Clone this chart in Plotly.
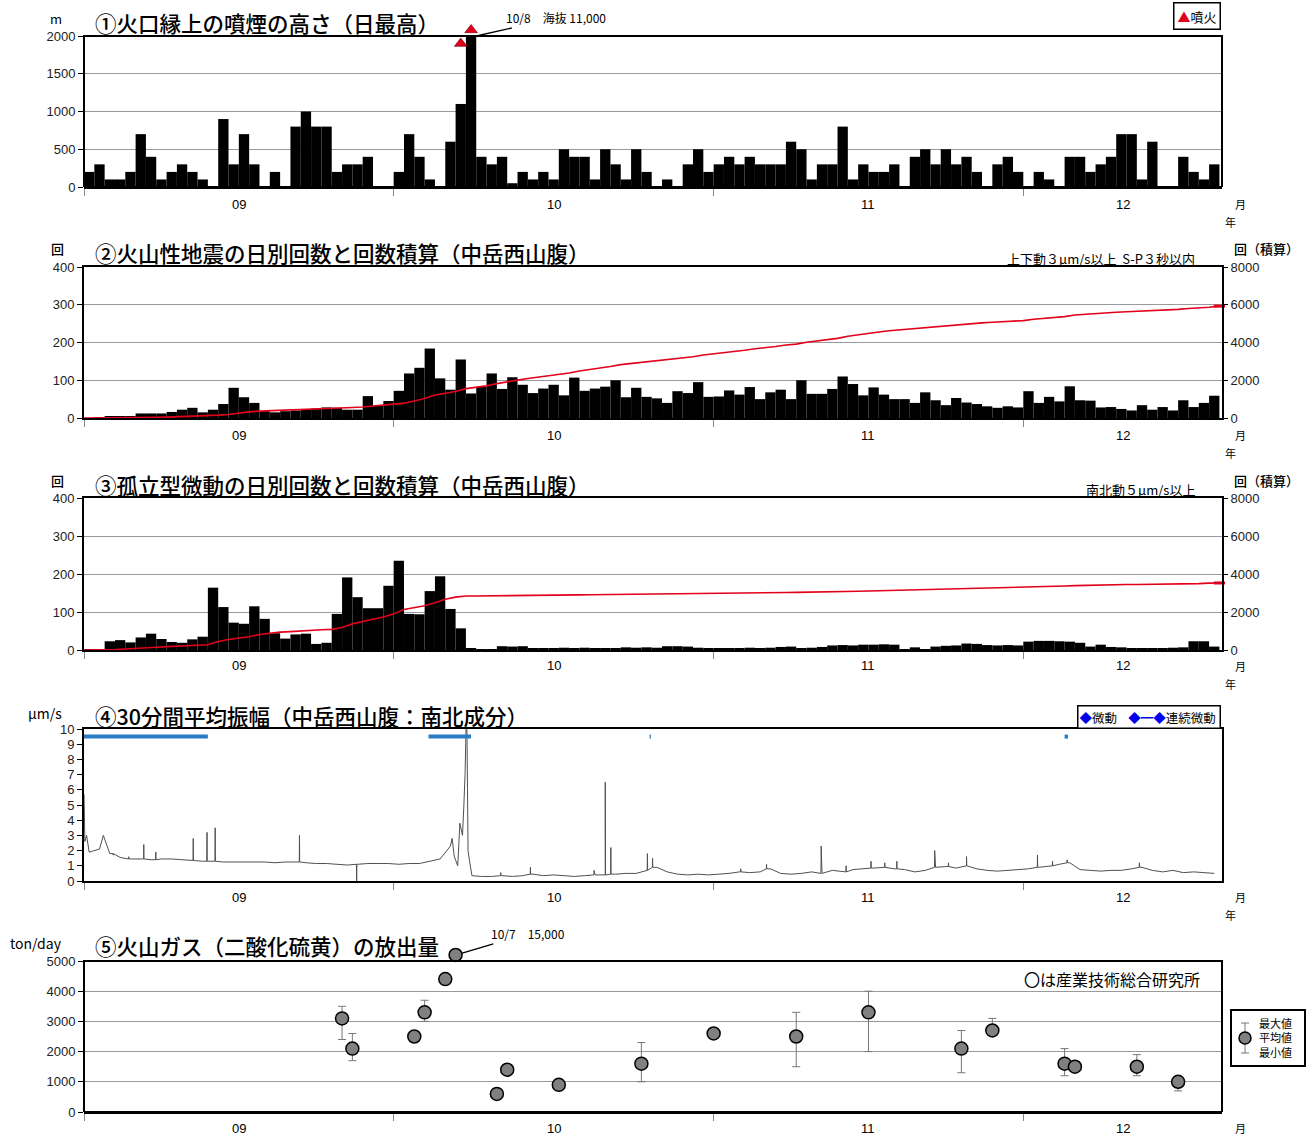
import numpy as np
import pandas as pd
import plotly.graph_objects as go

# ---------------- data ----------------
START = "2016-09-01"
X_END = "2016-12-20 06:00"
days = pd.date_range(START, "2016-12-19", freq="D")
month_starts = ["2016-09-01", "2016-10-01", "2016-11-01", "2016-12-01"]
month_labels = ["09", "10", "11", "12"]

# (1) daily maximum plume height above the crater rim [m]
plume_sep = [200, 300, 100, 100, 200, 700, 400, 100, 200, 300, 200, 100, 0, 900, 300,
             700, 300, 0, 200, 0, 800, 1000, 800, 800, 200, 300, 300, 400, 0, 0]
plume_oct = [200, 700, 400, 100, 0, 600, 1100, 10000, 400, 300, 400, 50, 200, 100, 200, 100,
             500, 400, 400, 100, 500, 300, 100, 500, 200, 0, 100, 0, 300, 500, 200]
plume_nov = [300, 400, 300, 400, 300, 300, 300, 600, 500, 100, 300, 300, 800, 100, 300,
             200, 200, 300, 0, 400, 500, 300, 500, 300, 400, 200, 0, 300, 400, 200]
plume_dec = [0, 200, 100, 0, 400, 400, 200, 300, 400, 700, 700, 100, 600, 0, 0, 400, 200, 100, 300]
eruption_days = ["2016-10-07", "2016-10-08"]

# (2) volcanic earthquakes per day
eq_sep = [0, 2, 3, 3, 4, 12, 12, 12, 16, 22, 27, 15, 22, 37, 80, 55, 40, 18, 15, 18,
          20, 22, 25, 28, 27, 22, 22, 58, 32, 45]
eq_oct = [72, 118, 133, 184, 105, 75, 155, 65, 82, 118, 77, 108, 88, 66, 78, 88, 60, 107,
          72, 78, 83, 100, 55, 80, 56, 52, 40, 71, 66, 95, 56]
eq_nov = [57, 73, 62, 82, 50, 68, 75, 50, 100, 64, 64, 77, 110, 90, 60, 81, 62, 50, 50, 40,
          68, 47, 34, 53, 41, 37, 31, 27, 31, 28]
eq_dec = [71, 40, 56, 44, 84, 47, 46, 28, 29, 24, 20, 34, 22, 29, 20, 47, 29, 40, 59]

# (3) isolated-type tremors per day
tr_sep = [1, 2, 23, 26, 20, 33, 43, 29, 21, 19, 28, 35, 164, 113, 72, 69, 115, 82, 44, 30,
          41, 43, 16, 19, 95, 191, 139, 110, 110, 169]
tr_oct = [235, 95, 94, 155, 194, 108, 57, 3, 2, 2, 10, 9, 10, 5, 4, 5, 6, 5, 6, 4, 5, 5, 7, 6,
          7, 6, 10, 10, 9, 6, 5]
tr_nov = [4, 5, 4, 6, 5, 6, 8, 9, 4, 6, 8, 12, 13, 12, 14, 14, 15, 14, 2, 7, 2, 9, 11, 12,
          17, 16, 13, 12, 13, 12]
tr_dec = [22, 24, 24, 23, 22, 19, 9, 14, 8, 7, 4, 3, 4, 5, 6, 7, 23, 23, 9]

# (4) 30-minute mean amplitude [um/s], value around midday of each day
amp_sep = [1.9, 2.1, 1.8, 1.55, 1.45, 1.45, 1.4, 1.45, 1.45, 1.4, 1.35, 1.3, 1.3, 1.25, 1.25,
           1.25, 1.25, 1.25, 1.2, 1.25, 1.25, 1.2, 1.15, 1.15, 1.1, 1.05, 1.1, 1.15, 1.15, 1.15]
amp_oct = [1.1, 1.15, 1.15, 1.3, 1.45, 2.3, 3.5, 0.5, 0.3, 0.3, 0.35, 0.3, 0.35, 0.45, 0.35,
           0.4, 0.35, 0.3, 0.35, 0.4, 0.4, 0.45, 0.5, 0.5, 0.7, 0.9, 0.6, 0.45, 0.4, 0.45, 0.4]
amp_nov = [0.45, 0.5, 0.6, 0.55, 0.6, 0.8, 0.5, 0.45, 0.5, 0.6, 0.5, 0.7, 0.6, 0.75, 0.8,
           0.85, 0.9, 0.8, 0.75, 0.6, 0.7, 0.9, 0.95, 0.85, 1.0, 0.8, 0.7, 0.65, 0.7, 0.75]
amp_dec = [0.8, 0.9, 1.0, 1.1, 1.2, 0.75, 0.7, 0.65, 0.7, 0.7, 0.8, 0.9, 0.7, 0.6, 0.7,
           0.55, 0.6, 0.55, 0.5]
# short isolated peaks (time, amplitude)
amp_peak_times = ["2016-09-03 20:00", "2016-09-05 08:00", "2016-09-06 19:00", "2016-09-07 23:00",
                  "2016-09-11 14:00", "2016-09-12 22:00", "2016-09-13 17:00", "2016-09-21 21:00",
                  "2016-09-27 10:00", "2016-10-11 09:00", "2016-10-14 06:00", "2016-10-20 10:00",
                  "2016-10-21 12:00", "2016-10-22 01:00", "2016-10-25 14:00", "2016-10-26 02:00",
                  "2016-11-03 15:00", "2016-11-06 03:00", "2016-11-11 10:00", "2016-11-13 20:00",
                  "2016-11-16 06:00", "2016-11-17 14:00", "2016-11-18 18:00", "2016-11-22 10:00",
                  "2016-11-23 18:00", "2016-11-25 12:00", "2016-12-02 09:00", "2016-12-03 20:00",
                  "2016-12-05 06:00", "2016-12-12 06:00"]
amp_peak_vals = [1.7, 1.6, 2.4, 1.9, 2.8, 3.2, 3.5, 3.0, 0.0, 0.55, 0.9, 0.7, 6.5, 2.2, 1.8,
                 1.5, 0.8, 1.1, 2.3, 1.0, 1.3, 1.2, 1.3, 2.0, 1.2, 1.6, 1.7, 1.3, 1.4, 1.2]
# additional samples at the start of the record and around the 7-8 Oct eruption
amp_more_times = ["2016-09-01 00:00", "2016-09-01 02:00", "2016-09-01 06:00", "2016-09-02 21:00",
                  "2016-10-06 16:00", "2016-10-06 21:00", "2016-10-07 05:00", "2016-10-07 10:00",
                  "2016-10-07 16:00", "2016-10-07 19:00", "2016-10-07 22:00", "2016-10-08 01:45",
                  "2016-10-08 05:00", "2016-10-08 08:00", "2016-10-08 14:00"]
amp_more_vals = [5.7, 2.6, 3.0, 3.0, 2.8, 1.6, 1.0, 3.8, 3.0, 4.8, 7.0, 12.0, 2.0, 1.4, 0.35]
# continuous-tremor periods
tremor_start = ["2016-09-01 00:00", "2016-10-04 09:00", "2016-10-25 19:00", "2016-12-05 00:00"]
tremor_end = ["2016-09-13 00:00", "2016-10-08 12:00", "2016-10-25 22:00", "2016-12-05 08:00"]

# (5) SO2 emission rate [ton/day]
gas_dates = ["2016-09-26", "2016-09-27", "2016-10-03", "2016-10-04", "2016-10-06", "2016-10-07",
             "2016-10-11", "2016-10-12", "2016-10-17", "2016-10-25", "2016-11-01", "2016-11-09",
             "2016-11-16", "2016-11-25", "2016-11-28", "2016-12-05", "2016-12-06", "2016-12-12",
             "2016-12-16"]
gas_mean = [3100, 2100, 2500, 3300, 4400, 15000, 600, 1400, 900, 1600, 2600, 2500, 3300,
            2100, 2700, 1600, 1500, 1500, 1000]
gas_max = [3500, 2600, None, 3700, None, None, None, None, None, 2300, None, 3300, 4000,
           2700, 3100, 2100, None, 1900, 1100]
gas_min = [2400, 1700, None, 3000, None, None, None, None, None, 1000, None, 1500, 2000,
           1300, 2600, 1200, None, 1200, 700]

# ---------------- geometry helpers ----------------
W, H = 1310, 1135
L, R, T, B = 84, 1222, 18, 1112
panels_px = [(36, 187), (267, 418), (498, 650), (729, 881), (961, 1112)]
# panels 1 and 5 get some head room above their frame for off-scale marks
panel_top_px = [20, 267, 498, 729, 940]
panel_max = [2000, 400, 400, 10, 5000]


def px(x):
    return (x - L) / (R - L)


def py(y):
    return (B - y) / (B - T)


doms = [[py(b), py(top)] for (t, b), top in zip(panels_px, panel_top_px)]
ranges = [[0, m * (b - top) / (b - t)] for (t, b), top, m in zip(panels_px, panel_top_px, panel_max)]

JP = "Noto Sans CJK JP, Noto Sans, sans-serif"
NUM = "Liberation Sans Narrow, Liberation Sans, Arial, sans-serif"
TICKFONT = dict(family=NUM, size=13, color="#222")
RED = "#e3001b"
DAY_MS = 86400000

centers = days + pd.Timedelta(hours=12)
plume = plume_sep + plume_oct + plume_nov + plume_dec
plume_plot = [min(v, panel_max[0]) for v in plume]   # off-scale bars stop at the frame
eq = np.array(eq_sep + eq_oct + eq_nov + eq_dec)
tr = np.array(tr_sep + tr_oct + tr_nov + tr_dec)
cum_x = [pd.Timestamp(START)] + list(days + pd.Timedelta(days=1))
cum_eq = np.concatenate([[0], np.cumsum(eq)])
cum_tr = np.concatenate([[0], np.cumsum(tr)])

fig = go.Figure()

# panel 1: plume height
fig.add_bar(x=centers, y=plume_plot, width=DAY_MS, marker=dict(color="black", line_width=0),
            xaxis="x", yaxis="y")
fig.add_scatter(x=pd.to_datetime(eruption_days) + pd.Timedelta(hours=12), y=[1900, 2080],
                mode="markers", cliponaxis=False, xaxis="x", yaxis="y",
                marker=dict(symbol="triangle-up", size=11, color=RED,
                            line=dict(color="#600", width=0.6)))

# panel 2: earthquakes
fig.add_bar(x=centers, y=eq, width=DAY_MS, marker=dict(color="black", line_width=0),
            xaxis="x2", yaxis="y2")
fig.add_scatter(x=cum_x, y=cum_eq, mode="lines", line=dict(color=RED, width=1.6),
                xaxis="x2", yaxis="y6")
fig.add_scatter(x=[cum_x[-1]], y=[cum_eq[-1]], mode="markers", cliponaxis=False,
                marker=dict(symbol="line-ew", size=8, line=dict(color=RED, width=3)),
                xaxis="x2", yaxis="y6")

# panel 3: isolated tremors
fig.add_bar(x=centers, y=tr, width=DAY_MS, marker=dict(color="black", line_width=0),
            xaxis="x3", yaxis="y3")
fig.add_scatter(x=cum_x, y=cum_tr, mode="lines", line=dict(color=RED, width=1.6),
                xaxis="x3", yaxis="y7")
fig.add_scatter(x=[cum_x[-1]], y=[cum_tr[-1]], mode="markers", cliponaxis=False,
                marker=dict(symbol="line-ew", size=8, line=dict(color=RED, width=3)),
                xaxis="x3", yaxis="y7")

# panel 4: 30-minute mean amplitude
amp_vals = amp_sep + amp_oct + amp_nov + amp_dec
pts = list(zip(centers, amp_vals))
half_hour = pd.Timedelta(minutes=30)
t0 = pd.Timestamp(START)
for t, v in zip(pd.to_datetime(amp_peak_times), amp_peak_vals):
    base = amp_vals[(t.normalize() - t0).days]
    pts += [(t - half_hour, base), (t, v), (t + half_hour, base)]
pts += list(zip(pd.to_datetime(amp_more_times), amp_more_vals))
pts.sort(key=lambda p: p[0])
fig.add_scatter(x=[p[0] for p in pts], y=[p[1] for p in pts], mode="lines",
                line=dict(color="#505050", width=1), xaxis="x4", yaxis="y4")
seg_x, seg_y = [], []
for s, e in zip(tremor_start, tremor_end):
    seg_x += [s, e, None]
    seg_y += [9.5, 9.5, None]
fig.add_scatter(x=seg_x, y=seg_y, mode="lines", line=dict(color="#2a7cc4", width=4),
                xaxis="x4", yaxis="y4")

# panel 5: SO2 emission (off-scale values are pinned just above the frame)
gas_plot = [min(v, 5200) for v in gas_mean]
err_up = [(mx - m) if mx is not None else 0 for mx, m in zip(gas_max, gas_mean)]
err_dn = [(m - mn) if mn is not None else 0 for mn, m in zip(gas_min, gas_mean)]
fig.add_scatter(x=gas_dates, y=gas_plot, mode="markers", cliponaxis=False,
                error_y=dict(type="data", array=err_up, arrayminus=err_dn, color="#777",
                             thickness=1, width=4),
                marker=dict(size=13, color="#808080", line=dict(color="black", width=1.5)),
                xaxis="x5", yaxis="y5")


# ---------------- axes ----------------
def xax(anchor, mirror=True):
    return dict(type="date", range=[START, X_END], tickvals=month_starts,
                ticktext=[""] * 4, ticks="outside", ticklen=7, tickcolor="#888",
                tickwidth=1, showgrid=False, showline=True, linecolor="black",
                linewidth=2, mirror=mirror, zeroline=False, anchor=anchor, domain=[0, 1])


def yax(i, dtick, grid=True, frame=True):
    top = panel_max[i]
    return dict(domain=doms[i], range=ranges[i], tickvals=list(np.arange(0, top + dtick / 2, dtick)),
                showgrid=grid, gridcolor="#9a9a9a", gridwidth=1.3, ticks="outside", ticklen=5,
                tickcolor="black", showline=frame, linecolor="black", linewidth=2,
                mirror=frame, zeroline=False, tickfont=TICKFONT,
                anchor="x" if i == 0 else f"x{i + 1}")


layout = dict(
    width=W, height=H, margin=dict(l=L, r=W - R, t=T, b=H - B),
    paper_bgcolor="white", plot_bgcolor="white", showlegend=False,
    font=dict(family=JP, color="black"),
)
for i in range(5):
    key = "xaxis" if i == 0 else f"xaxis{i + 1}"
    layout[key] = xax("y" if i == 0 else f"y{i + 1}", mirror=i not in (0, 4))
layout["yaxis"] = yax(0, 500, frame=False)
layout["yaxis2"] = yax(1, 100)
layout["yaxis3"] = yax(2, 100)
layout["yaxis4"] = yax(3, 1, grid=False)
layout["yaxis5"] = yax(4, 1000, frame=False)
for k, ov, anc in [("yaxis6", "y2", "x2"), ("yaxis7", "y3", "x3")]:
    layout[k] = dict(overlaying=ov, side="right", anchor=anc, range=[0, 8000], dtick=2000,
                     tick0=0, showgrid=False, ticks="outside", ticklen=5, tickcolor="black",
                     showline=False, zeroline=False, tickfont=TICKFONT)
fig.update_layout(**layout)

# frames of the panels with head room
shapes = [
    dict(type="rect", xref="x domain", yref="y", x0=0, x1=1, y0=0, y1=panel_max[0],
         line=dict(color="black", width=2), layer="above"),
    dict(type="rect", xref="x5 domain", yref="y5", x0=0, x1=1, y0=0, y1=panel_max[4],
         line=dict(color="black", width=2), layer="above"),
]

# ---------------- text ----------------
ann = []


def text(x, y, s, size=13, anchor="left", xref="paper", yref="paper", family=JP, weight=None, **kw):
    font = dict(family=family, size=size, color="black")
    if weight:
        font["weight"] = weight
    ann.append(dict(x=x, y=y, xref=xref, yref=yref, text=s, showarrow=False,
                    xanchor=anchor, yanchor="middle", font=font, **kw))


titles = ["①火口縁上の噴煙の高さ（日最高）",
          "②火山性地震の日別回数と回数積算（中岳西山腹）",
          "③孤立型微動の日別回数と回数積算（中岳西山腹）",
          "④30分間平均振幅（中岳西山腹：南北成分）",
          "⑤火山ガス（二酸化硫黄）の放出量"]
title_y = [22, 253, 484, 715, 946]
for s, y in zip(titles, title_y):
    text(px(93), py(y), s, size=21.5, weight=500)

text(px(56), py(19), "m", size=13, anchor="center")
text(px(57), py(249), "回", size=13, anchor="center", weight=500)
text(px(57), py(480), "回", size=13, anchor="center", weight=500)
text(px(1266), py(249), "回（積算）", size=13, anchor="center", weight=500)
text(px(1266), py(480), "回（積算）", size=13, anchor="center", weight=500)
text(px(45), py(713), "μm/s", size=14, anchor="center")
text(px(36), py(943), "ton/day", size=14, anchor="center")
text(px(1197), py(258), "上下動３μm/s以上  S-P３秒以内", size=13, anchor="right")
text(px(1197), py(489), "南北動５μm/s以上", size=13, anchor="right")
text(px(1202), py(979), "〇は産業技術総合研究所", size=16, anchor="right")

# month labels centred on the visible part of each month
bounds = list(pd.to_datetime(month_starts)) + [pd.Timestamp(X_END)]
label_y = [204, 435, 666, 897, 1128]
for i, ly in enumerate(label_y):
    xr = "x" if i == 0 else f"x{i + 1}"
    for j, lab in enumerate(month_labels):
        mid = bounds[j] + (bounds[j + 1] - bounds[j]) / 2
        text(str(mid), py(ly), lab, size=13, anchor="center", xref=xr, family=NUM)
    text(px(1240), py(ly), "月", size=11, anchor="center")
    if i < 4:
        text(px(1230), py(ly + 18), "年", size=11, anchor="center")

# legends
ann.append(dict(x=px(1221), y=py(16), xref="paper", yref="paper", showarrow=False,
                xanchor="right", yanchor="middle",
                text="<span style='color:#e3001b'>▲</span>噴火",
                font=dict(family=JP, size=13, color="black"),
                bordercolor="black", borderwidth=1.5, borderpad=3, bgcolor="white"))
ann.append(dict(x=px(1221), y=py(717), xref="paper", yref="paper", showarrow=False,
                xanchor="right", yanchor="middle",
                text="<span style='color:#0000ee'>◆</span>微動    "
                     "<span style='color:#0000ee'>◆━◆</span>連続微動 ",
                font=dict(family=JP, size=12.5, color="black"),
                bordercolor="black", borderwidth=1.5, borderpad=1, bgcolor="white"))

# value call-outs for off-scale marks
ann.append(dict(x="2016-10-09", y=panel_max[0], xref="x", yref="y", text="10/8　海抜 11,000",
                showarrow=True, arrowhead=0, arrowwidth=1.3, arrowcolor="black",
                ax=80, ay=-18, xanchor="center",
                font=dict(family=JP, size=12, color="black")))
ann.append(dict(x=gas_dates[5], y=gas_plot[5], xref="x5", yref="y5",
                text=f"{gas_dates[5][5:7].lstrip('0')}/{gas_dates[5][8:].lstrip('0')}　{gas_mean[5]:,}",
                showarrow=True, arrowhead=0, arrowwidth=1.3, arrowcolor="black",
                ax=72, ay=-21, standoff=6, xanchor="center",
                font=dict(family=JP, size=12, color="black")))

# SO2 legend: max / mean / min
ann.append(dict(x=px(1257), y=py(1037), xref="paper", yref="paper", showarrow=False,
                xanchor="left", yanchor="middle", align="left",
                text="最大値<br>平均値<br>最小値",
                font=dict(family=JP, size=11, color="black")))
fig.update_layout(annotations=ann)

shapes += [
    dict(type="rect", xref="paper", yref="paper", x0=px(1231), x1=px(1305),
         y0=py(1066), y1=py(1010), line=dict(color="black", width=2)),
    dict(type="line", xref="paper", yref="paper", x0=px(1245), x1=px(1245),
         y0=py(1053), y1=py(1023), line=dict(color="#777", width=1)),
    dict(type="line", xref="paper", yref="paper", x0=px(1241), x1=px(1249),
         y0=py(1023), y1=py(1023), line=dict(color="#777", width=1)),
    dict(type="line", xref="paper", yref="paper", x0=px(1241), x1=px(1249),
         y0=py(1053), y1=py(1053), line=dict(color="#777", width=1)),
    dict(type="circle", xref="paper", yref="paper", x0=px(1239), x1=px(1251),
         y0=py(1044), y1=py(1032), fillcolor="#808080", line=dict(color="black", width=1.5)),
]
fig.update_layout(shapes=shapes)

fig.write_html("out.html")
